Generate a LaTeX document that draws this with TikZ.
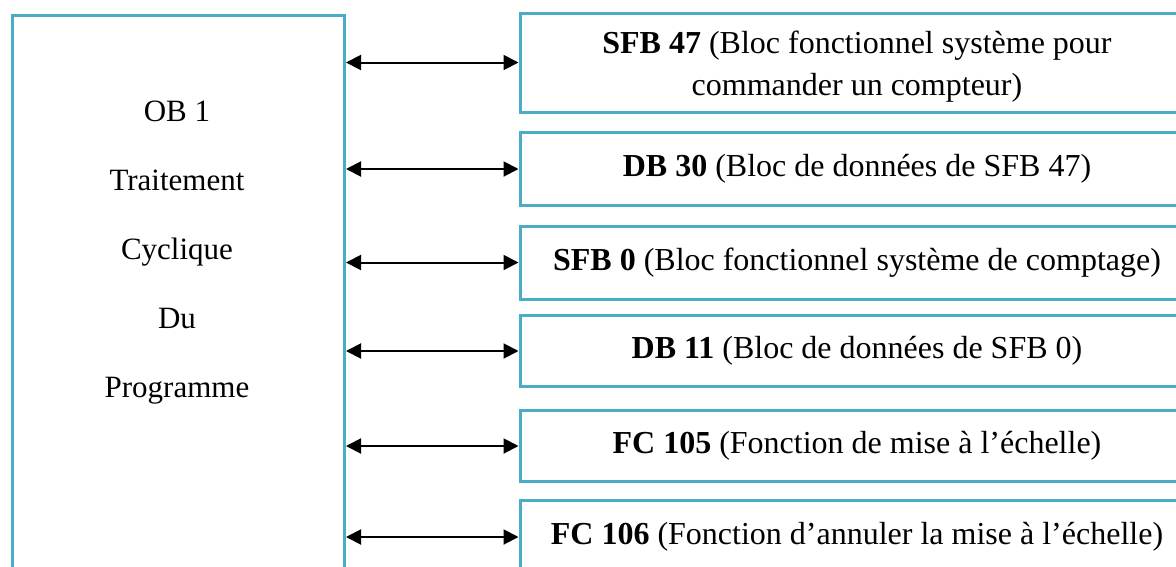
\documentclass[tikz,border=0pt]{standalone}
\usepackage{fontspec}
\setmainfont{Liberation Serif}
\usetikzlibrary{arrows.meta}
\definecolor{frame}{HTML}{4BACC6}
\tikzset{
  blockbox/.style={draw=frame, line width=3pt, fill=white, inner sep=0pt,
    align=center, font=\fontsize{32}{41}\selectfont},
  rbox/.style={blockbox, minimum width=674pt},
  boxtext/.style={align=center, inner sep=0pt, font=\fontsize{32}{42}\selectfont},
  link/.style={draw=black, line width=2pt,
    {Triangle[length=15pt,width=15pt]}-{Triangle[length=15pt,width=15pt]}}
}
\begin{document}
\begin{tikzpicture}[x=1pt,y=1pt]
\useasboundingbox (0,0) rectangle (1176,-566);
\clip (0,0) rectangle (1176,-566);
\fill[white] (0,0) rectangle (1176,-566);

% main program block (runs past the lower edge)
\node[blockbox, minimum width=332pt, minimum height=600pt, anchor=north west] (ob) at (11,-14) {};
\node[font=\fontsize{31}{69}\selectfont, align=center, inner sep=0pt, anchor=north] (obtext) at (177,-101)
  {OB 1\\Traitement\\Cyclique\\Du\\Programme};

% called blocks
\node[rbox, minimum height=99pt]  (r1) at (857,-62.5) {};
\node[boxtext] (r1t) at ([yshift=-4pt]r1.center) {\textbf{SFB 47} (Bloc fonctionnel système pour\\commander un compteur)};
\node[rbox, minimum height=73pt]  (r2) at (857,-169)  {\textbf{DB 30} (Bloc de données de SFB 47)};
\node[rbox, minimum height=73pt]  (r3) at (857,-262.5) {\textbf{SFB 0} (Bloc fonctionnel système de comptage)};
\node[rbox, minimum height=71pt]  (r4) at (857,-351)  {\textbf{DB 11} (Bloc de données de SFB 0)};
\node[rbox, minimum height=71pt]  (r5) at (857,-446)  {\textbf{FC 105} (Fonction de mise à l’échelle)};
\node[rbox, minimum height=74pt]  (r6) at (857,-537)  {\textbf{FC 106} (Fonction d’annuler la mise à l’échelle)};

% exchanges between OB 1 and each block
\foreach \b in {r1,r2,r3,r4,r5,r6}
  \draw[link] (\b.west -| ob.east) -- (\b.west);
\end{tikzpicture}
\end{document}
